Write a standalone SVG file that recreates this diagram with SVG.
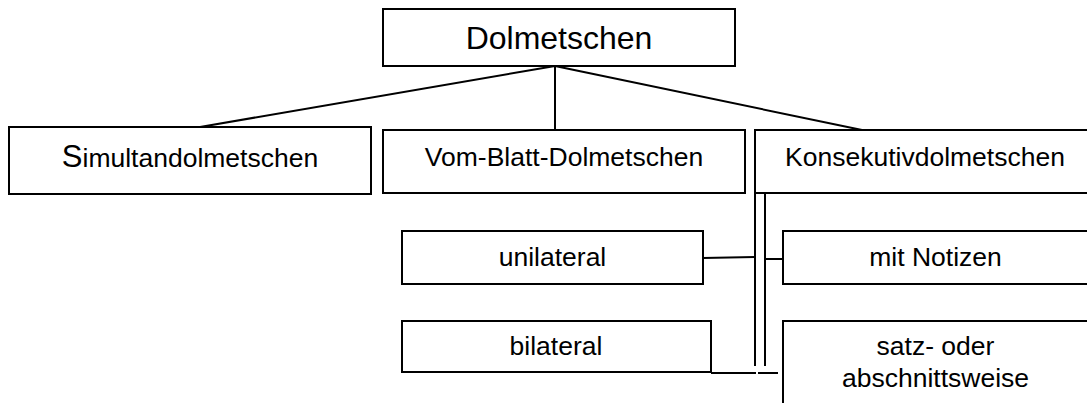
<svg xmlns="http://www.w3.org/2000/svg" width="1087" height="403" viewBox="0 0 1087 403">
<style>
.box{fill:#fff;stroke:#000;stroke-width:2}
.t{font-family:"Liberation Sans",Arial,sans-serif;font-size:26.5px;fill:#000;text-anchor:middle}
.big{font-size:32px}
.c{stroke:#000;stroke-width:2;fill:none}
</style>
<rect width="1087" height="403" fill="#fff"/>
<g id="connectors">
<line class="c" x1="555" y1="66" x2="200" y2="127"/>
<line class="c" x1="555" y1="66" x2="555" y2="130"/>
<line class="c" x1="555" y1="66" x2="862" y2="130"/>
<line class="c" x1="755" y1="193" x2="755" y2="366"/>
<line class="c" x1="765" y1="193" x2="765" y2="366"/>
<line class="c" x1="703" y1="258" x2="755" y2="257"/>
<line class="c" x1="765" y1="259" x2="783" y2="259"/>
<line class="c" x1="711" y1="373" x2="756" y2="373"/>
<line class="c" x1="758" y1="373" x2="778" y2="373"/>
</g>
<g id="dolmetschen">
<rect class="box" x="383" y="9" width="352" height="57"/>
<text class="t big" x="559" y="49">Dolmetschen</text>
</g>
<g id="simultan">
<rect class="box" x="9" y="127" width="362" height="67"/>
<text class="t" x="190" y="167"><tspan font-size="31">S</tspan>imultandolmetschen</text>
</g>
<g id="vomblatt">
<rect class="box" x="383" y="130" width="362" height="63"/>
<text class="t" x="564" y="166">Vom-Blatt-Dolmetschen</text>
</g>
<g id="konsekutiv">
<rect class="box" x="755" y="130" width="340" height="63"/>
<text class="t" x="925" y="166">Konsekutivdolmetschen</text>
</g>
<g id="unilateral">
<rect class="box" x="402" y="231" width="301" height="53"/>
<text class="t" x="552.5" y="266">unilateral</text>
</g>
<g id="bilateral">
<rect class="box" x="402" y="321" width="309" height="51"/>
<text class="t" x="556" y="355">bilateral</text>
</g>
<g id="notizen">
<rect class="box" x="783" y="231" width="306" height="53"/>
<text class="t" x="935.5" y="266">mit Notizen</text>
</g>
<g id="satz">
<rect class="box" x="783" y="321" width="306" height="100"/>
<text class="t" x="935.5" y="355">satz- oder</text>
<text class="t" x="935.5" y="387">abschnittsweise</text>
</g>
</svg>
